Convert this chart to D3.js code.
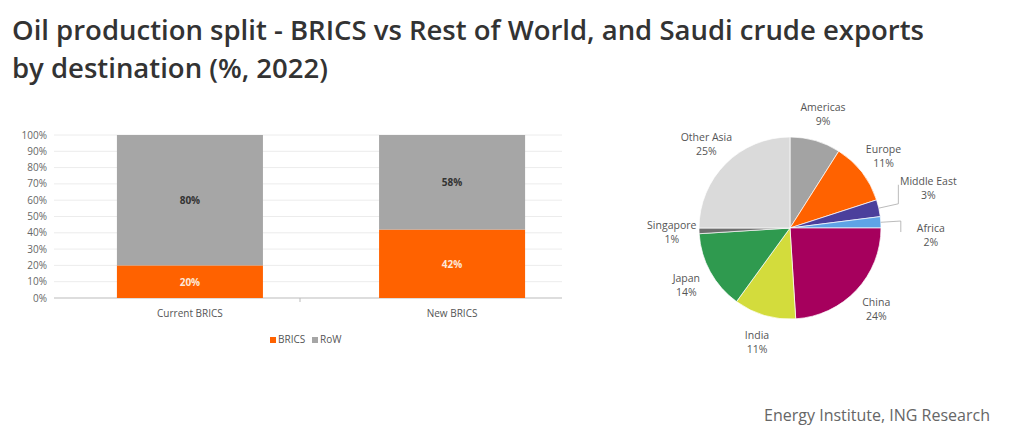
<!DOCTYPE html>
<html><head><meta charset="utf-8">
<script src="https://cdn.jsdelivr.net/npm/d3@7"></script>
<style>body{margin:0;background:#fff}</style></head>
<body><svg id="c" width="1013" height="440"></svg>
<script>
const categories = ["Current BRICS", "New BRICS"];
const bricsShare = [20, 42];
const rowShare = [80, 58];
const yTicks = [0,10,20,30,40,50,60,70,80,90,100];
const pieLabels = ["Americas","Europe","Middle East","Africa","China","India","Japan","Singapore","Other Asia"];
const pieValues = [9,11,3,2,24,11,14,1,25];
const pieColors = ["#a3a3a3","#ff6200","#4b3f9c","#5ea3e6","#a6005d","#d3dc3c","#2f9a4f","#6e6e6e","#dadada"];

const svg = d3.select("#c");
const F = "'Open Sans', sans-serif";
svg.append("text").attr("x",12).attr("y",40).attr("font-family",F).attr("font-weight",600).attr("font-size",27.5).attr("fill","#333")
  .text("Oil production split - BRICS vs Rest of World, and Saudi crude exports");
svg.append("text").attr("x",12).attr("y",78).attr("font-family",F).attr("font-weight",600).attr("font-size",27.5).attr("fill","#333")
  .text("by destination (%, 2022)");
svg.append("text").attr("x",990).attr("y",421).attr("text-anchor","end").attr("font-family",F).attr("font-size",16).attr("fill","#666")
  .text("Energy Institute, ING Research");

// Bars
const x = d3.scaleBand().domain(categories).range([54,588]).paddingInner(0.443).paddingOuter(0.24);
const y = d3.scaleLinear().domain([0,100]).range([298,135]);
const g = svg.append("g");
yTicks.forEach(t=>{
  g.append("line").attr("x1",54).attr("x2",562).attr("y1",y(t)).attr("y2",y(t)).attr("stroke", t===0?"#bbb":"#ececec");
  g.append("text").attr("x",47).attr("y",y(t)+3.5).attr("text-anchor","end").attr("font-family",F).attr("font-size",10).attr("fill","#666").text(t+"%");
});
g.append("line").attr("x1",300).attr("x2",300).attr("y1",298).attr("y2",302).attr("stroke","#bbb");
categories.forEach((c,i)=>{
  const xx=x(c), w=x.bandwidth();
  g.append("rect").attr("x",xx).attr("width",w).attr("y",y(bricsShare[i])).attr("height",y(0)-y(bricsShare[i])).attr("fill","#ff6200");
  g.append("rect").attr("x",xx).attr("width",w).attr("y",y(100)).attr("height",y(bricsShare[i])-y(100)).attr("fill","#a6a6a6");
  g.append("text").attr("x",xx+w/2).attr("y",y(bricsShare[i]/2)+4).attr("text-anchor","middle").attr("font-family",F).attr("font-weight",700).attr("font-size",10).attr("fill","#fde8d8").text(bricsShare[i]+"%");
  g.append("text").attr("x",xx+w/2).attr("y",y(bricsShare[i]+rowShare[i]/2)+4).attr("text-anchor","middle").attr("font-family",F).attr("font-weight",700).attr("font-size",10).attr("fill","#333").text(rowShare[i]+"%");
  g.append("text").attr("x",xx+w/2).attr("y",317).attr("text-anchor","middle").attr("font-family",F).attr("font-size",10).attr("fill","#555").text(c);
});
[["BRICS","#ff6200",270],["RoW","#a6a6a6",312]].forEach(([t,c,lx])=>{
  g.append("rect").attr("x",lx).attr("y",337).attr("width",6).attr("height",6).attr("fill",c);
  g.append("text").attr("x",lx+8).attr("y",343).attr("font-family",F).attr("font-size",10).attr("fill","#555").text(t);
});

// Pie
const cx=790, cy=228, R=91;
const pg = svg.append("g").attr("transform",`translate(${cx},${cy})`);
const arcs = d3.pie().sort(null)(pieValues);
const arc = d3.arc().innerRadius(0).outerRadius(R);
pg.selectAll("path").data(arcs).join("path").attr("d",arc).attr("fill",(d,i)=>pieColors[i]).attr("stroke","#fff").attr("stroke-width",0.7);
let smallCount = 0;
arcs.forEach((d,i)=>{
  const small = pieValues[i] < 5 && pieValues[i] > 1;
  const a = (d.startAngle+d.endAngle)/2;
  const lr = R*1.3;
  let lx = Math.sin(a)*lr, ly = -Math.cos(a)*lr;
  if(small){
    const px = Math.sin(a)*R*1.22, py = -Math.cos(a)*R*1.22;
    lx = px + 30; ly = py + (smallCount===0 ? -16 : 14);
    smallCount++;
    pg.append("polyline").attr("points",[[Math.sin(a)*R,-Math.cos(a)*R],[px, py],[lx-30, ly-3]].map(p=>p.join(",")).join(" "))
      .attr("fill","none").attr("stroke","#aaa").attr("stroke-width",0.8);
  }
  const t = pg.append("text").attr("text-anchor","middle").attr("font-family",F).attr("font-size",10.5).attr("fill","#555");
  t.append("tspan").attr("x",lx).attr("y",ly-3).text(pieLabels[i]);
  t.append("tspan").attr("x",lx).attr("y",ly+11).text(pieValues[i]+"%");
});
</script></body></html>
